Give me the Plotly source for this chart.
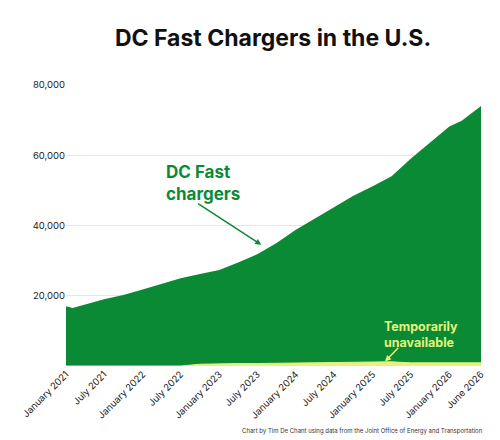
import plotly.graph_objects as go

dates = ["2021-01-01","2021-02-01","2021-07-01","2021-10-01","2022-01-01","2022-04-01","2022-07-01","2022-10-01",
         "2023-01-01","2023-04-01","2023-07-01","2023-10-01","2024-01-01","2024-04-01","2024-07-01","2024-10-01",
         "2025-01-01","2025-04-01","2025-07-01","2025-10-01","2026-01-01","2026-03-01","2026-06-01"]
dc_fast = [17000,16500,19000,20200,21800,23300,25000,26200,27300,29500,31800,35000,38800,42000,45200,48500,
           51200,54000,59000,63500,68200,69800,74000]
unavailable = [0,0,0,0,0,0,0,500,700,700,700,800,800,900,1000,1100,
               1300,1200,900,800,900,900,900]
tick_vals = ["2021-01-01","2021-07-01","2022-01-01","2022-07-01","2023-01-01","2023-07-01","2024-01-01",
             "2024-07-01","2025-01-01","2025-07-01","2026-01-01","2026-06-01"]
tick_text = ["January 2021","July 2021","January 2022","July 2022","January 2023","July 2023","January 2024",
             "July 2024","January 2025","July 2025","January 2026","June 2026"]

green = "#0b8a36"
yellow = "#e6f27a"
fig = go.Figure()
fig.add_trace(go.Scatter(x=dates, y=dc_fast, fill="tozeroy", mode="lines", line=dict(color=green, width=0),
                         fillcolor=green, hoverinfo="skip"))
fig.add_trace(go.Scatter(x=dates, y=unavailable, fill="tozeroy", mode="lines", line=dict(color=yellow, width=1),
                         fillcolor=yellow, hoverinfo="skip"))
fig.update_layout(
    width=500, height=440, showlegend=False, plot_bgcolor="white", paper_bgcolor="white",
    margin=dict(l=58, r=27, t=77, b=82, autoexpand=False),
    font=dict(family="Inter, Arial", color="#222"),
    title=dict(text="<b>DC Fast Chargers in the U.S.</b>", x=0.53, xanchor="center", y=0.932, yanchor="middle",
               font=dict(size=23, color="#111")),
    xaxis=dict(range=["2021-01-01","2026-06-01"], tickvals=tick_vals, ticktext=tick_text, tickangle=-45,
               tickfont=dict(size=9.5), showgrid=False, zeroline=False, ticks="", automargin=False),
    yaxis=dict(range=[0,80000], tickvals=[20000,40000,60000,80000], ticktext=["20,000","40,000","60,000","80,000"],
               gridcolor="#e6e6e6", tickfont=dict(size=9.5), zeroline=False, automargin=False),
)
fig.add_annotation(x="2022-04-15", y=52000, text="<b>DC Fast<br>chargers</b>", showarrow=False, align="left",
                   xanchor="left", font=dict(size=17, color=green))
fig.add_annotation(x="2023-07-20", y=34500, ax="2022-09-15", ay=46500, axref="x", ayref="y", text="",
                   showarrow=True, arrowhead=2, arrowsize=0.8, arrowwidth=1.5, arrowcolor=green)
fig.add_annotation(x="2025-02-15", y=9000, text="<b>Temporarily<br>unavailable</b>", showarrow=False, align="left",
                   xanchor="left", font=dict(size=12.5, color=yellow))
fig.add_annotation(x="2025-03-01", y=1300, ax="2025-05-10", ay=5600, axref="x", ayref="y", text="",
                   showarrow=True, arrowhead=2, arrowsize=0.8, arrowwidth=1.5, arrowcolor=yellow)
fig.add_annotation(xref="paper", yref="paper", x=1.01, y=-0.23, xanchor="right", yanchor="middle", showarrow=False,
                   text="Chart by Tim De Chant using data from the Joint Office of Energy and Transportation",
                   font=dict(size=6, color="#333"))
fig.write_html("out.html")
